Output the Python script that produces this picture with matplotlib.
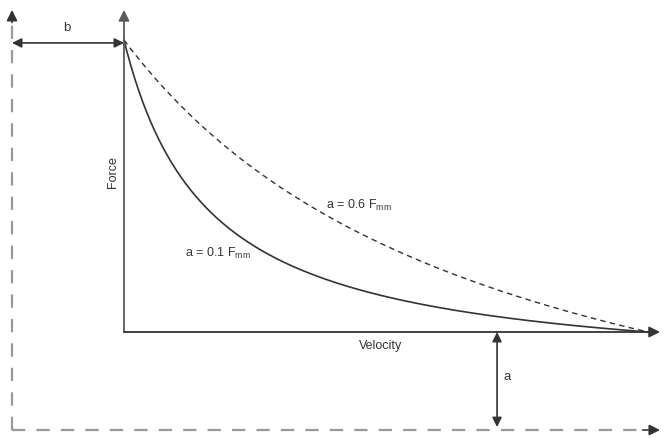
import numpy as np
import matplotlib
matplotlib.use("Agg")
import matplotlib.pyplot as plt

plt.rcParams['font.family'] = ['Liberation Sans', 'DejaVu Sans']

# Hill force-velocity curves, F0 = 1, vmax = 1 (schematic)
a_values = [0.16, 0.72]          # curve shape constants (solid, dashed)
curve_labels = ["a = 0.1 $\\mathregular{F_{mm}}$", "a = 0.6 $\\mathregular{F_{mm}}$"]
curve_styles = ["-", "--"]
shift_b = 0.2137                 # asymptote shift along velocity
shift_a = 0.3356                 # asymptote shift along force

v = np.linspace(0, 1, 400)

fig = plt.figure(figsize=(6.67, 4.38), dpi=100)
ax = fig.add_axes([0, 0, 1, 1])
ax.set_xlim(-0.2366, 1.0363)
ax.set_ylim(-0.363, 1.137)
ax.axis("off")

# curves
for a, ls in zip(a_values, curve_styles):
    F = (1 + a) * a / (v + a) - a
    if ls == "--":
        ax.plot(v, F, color="#333333", lw=1.0, ls=(0, (4, 3)))
    else:
        ax.plot(v, F, color="#333333", lw=1.2)

# solid axes
axc = "#5a5a5a"
ax.annotate("", xy=(0, 1.103), xytext=(0, 0),
            arrowprops=dict(arrowstyle="-|>", color=axc, lw=1.3, mutation_scale=16, shrinkA=0, shrinkB=0))
ax.annotate("", xy=(1.023, 0), xytext=(0, 0),
            arrowprops=dict(arrowstyle="-|>", color="#333333", lw=1.3, mutation_scale=16, shrinkA=0, shrinkB=0))

# dashed shifted axes
dc = "#999999"
ax.plot([-shift_b, -shift_b], [-shift_a, 1.07], color=dc, lw=1.6, ls=(0, (6, 5)))
ax.plot([-shift_b, 0.99], [-shift_a, -shift_a], color=dc, lw=1.6, ls=(0, (6, 5)))
ax.annotate("", xy=(-shift_b, 1.103), xytext=(-shift_b, 1.06),
            arrowprops=dict(arrowstyle="-|>", color="#333333", lw=1.2, mutation_scale=16, shrinkA=0, shrinkB=0))
ax.annotate("", xy=(1.023, -shift_a), xytext=(0.99, -shift_a),
            arrowprops=dict(arrowstyle="-|>", color="#333333", lw=1.2, mutation_scale=16, shrinkA=0, shrinkB=0))

# b and a dimension arrows
ax.annotate("", xy=(-shift_b, 0.99), xytext=(0, 0.99),
            arrowprops=dict(arrowstyle="<|-|>", color="#333333", lw=1.2, mutation_scale=14, shrinkA=0, shrinkB=0))
ax.text(-0.11, 1.02, "b", ha="center", va="bottom", fontsize=9.5, color="#333333")
ax.annotate("", xy=(0.712, -shift_a + 0.01), xytext=(0.712, 0),
            arrowprops=dict(arrowstyle="<|-|>", color="#333333", lw=1.2, mutation_scale=14, shrinkA=0, shrinkB=0))
ax.text(0.724, -0.155, "a", ha="left", va="center", fontsize=9.5, color="#333333")

# labels
ax.text(-0.021, 0.548, "Force", rotation=90, ha="center", va="center", fontsize=9, color="#333333")
ax.text(0.489, -0.048, "Velocity", ha="center", va="center", fontsize=9, color="#333333")
ax.text(0.116, 0.27, curve_labels[0], ha="left", va="center", fontsize=9, color="#333333")
ax.text(0.385, 0.435, curve_labels[1], ha="left", va="center", fontsize=9, color="#333333")

fig.savefig("out.png", dpi=100)
